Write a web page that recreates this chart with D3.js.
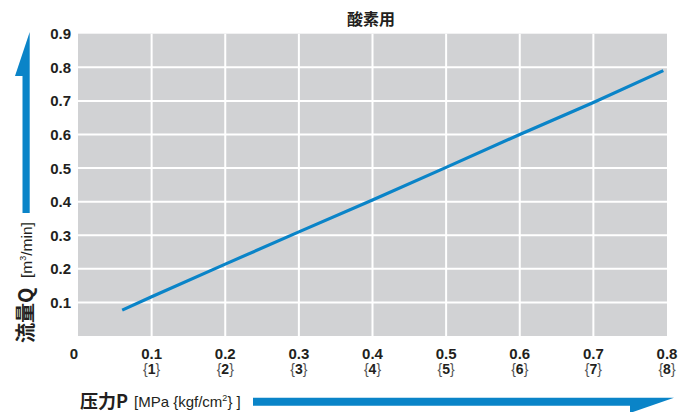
<!DOCTYPE html>
<html>
<head>
<meta charset="utf-8">
<script src="https://cdn.jsdelivr.net/npm/d3@7"></script>
<style>
  body { margin: 0; background: #fff; }
  text { font-family: "Liberation Sans", Roboto, sans-serif; }
  .cjk { font-family: "Noto Sans CJK JP", "Noto Sans CJK SC", sans-serif; }
</style>
</head>
<body>
<script>
// data
var pressure = [0.06, 0.1, 0.2, 0.3, 0.4, 0.5, 0.6, 0.7, 0.795];
var flow     = [0.077, 0.117, 0.214, 0.31, 0.405, 0.502, 0.6, 0.695, 0.79];
var xTicks = [0, 0.1, 0.2, 0.3, 0.4, 0.5, 0.6, 0.7, 0.8];
var xSubLabels = ["", "1", "2", "3", "4", "5", "6", "7", "8"];
var yTicks = [0.1, 0.2, 0.3, 0.4, 0.5, 0.6, 0.7, 0.8, 0.9];

const W = 680, H = 412;
const plotL = 78, plotR = 667, plotT = 33.7, plotB = 336;
const blue = "#0a84c8";
const gray = "#d1d2d4";
const ink = "#231f20";

const svg = d3.select("body").append("svg")
    .attr("width", W)
    .attr("height", H);

var x = d3.scaleLinear().domain([0, 0.8]).range([plotL, plotR]);
var y = d3.scaleLinear().domain([0, 0.9]).range([plotB, plotT]);

// plot background
svg.append("rect")
    .attr("x", plotL).attr("y", plotT)
    .attr("width", plotR - plotL).attr("height", plotB - plotT)
    .attr("fill", gray);

// grid
svg.selectAll(".vgrid").data(xTicks.slice(1, -1)).enter()
    .append("line")
    .attr("x1", d => x(d)).attr("x2", d => x(d))
    .attr("y1", plotT).attr("y2", plotB)
    .attr("stroke", "#fff").attr("stroke-width", 2);

svg.selectAll(".hgrid").data(yTicks.slice(0, -1)).enter()
    .append("line")
    .attr("x1", plotL).attr("x2", plotR)
    .attr("y1", d => y(d)).attr("y2", d => y(d))
    .attr("stroke", "#fff").attr("stroke-width", 2);

// the line
var pts = pressure.map((p, i) => [p, flow[i]]);
svg.append("path")
    .datum(pts)
    .attr("fill", "none")
    .attr("stroke", blue)
    .attr("stroke-width", 3.2)
    .attr("d", d3.line().x(d => x(d[0])).y(d => y(d[1])));

// y tick labels
svg.selectAll(".ylab").data(yTicks).enter()
    .append("text")
    .attr("x", 71)
    .attr("y", d => y(d) + 5.5)
    .attr("text-anchor", "end")
    .attr("font-size", 15)
    .attr("font-weight", "bold")
    .attr("fill", ink)
    .text(d => d.toFixed(1));

// x tick labels
svg.selectAll(".xlab").data(xTicks).enter()
    .append("text")
    .attr("x", d => d == 0 ? x(d) - 4 : x(d))
    .attr("y", 359)
    .attr("text-anchor", "middle")
    .attr("font-size", 15)
    .attr("font-weight", "bold")
    .attr("fill", ink)
    .text(d => d == 0 ? "0" : d.toFixed(1));

var sub = svg.selectAll(".xsub").data(xTicks.slice(1)).enter()
    .append("text")
    .attr("x", d => x(d))
    .attr("y", 374)
    .attr("text-anchor", "middle")
    .attr("font-size", 14)
    .attr("fill", ink);
sub.append("tspan").attr("fill", "#555").text("{");
sub.append("tspan").attr("font-weight", "bold").text((d, i) => xSubLabels[i + 1]);
sub.append("tspan").attr("fill", "#555").text("}");

// title
svg.append("text")
    .attr("class", "cjk")
    .attr("x", 371).attr("y", 25)
    .attr("text-anchor", "middle")
    .attr("font-size", 16)
    .attr("font-weight", "bold")
    .attr("fill", ink)
    .text("酸素用");

// y axis arrow (half head)
svg.append("path")
    .attr("fill", blue)
    .attr("d", "M29.7,32 L29.7,213 L22.5,213 L22.5,76 L15,76 Z");

svg.append("text")
    .attr("class", "cjk")
    .attr("transform", "translate(33,343) rotate(-90)")
    .attr("font-size", 20)
    .attr("font-weight", "bold")
    .attr("fill", ink)
    .text("流量Q");

var yl = svg.append("text")
    .attr("transform", "translate(32,278) rotate(-90)")
    .attr("font-size", 15.5)
    .attr("fill", ink);
yl.append("tspan").text("[m");
yl.append("tspan").attr("font-size", 9).attr("dy", -6).text("3");
yl.append("tspan").attr("dy", 6).text("/min]");

// x axis label and arrow
svg.append("text")
    .attr("class", "cjk")
    .attr("x", 80).attr("y", 408)
    .attr("font-size", 18)
    .attr("font-weight", "bold")
    .attr("fill", ink)
    .text("压力P");

var xl = svg.append("text")
    .attr("x", 134).attr("y", 407)
    .attr("font-size", 15)
    .attr("fill", ink);
xl.append("tspan").text("[MPa {kgf/cm");
xl.append("tspan").attr("font-size", 9).attr("dy", -6).text("2");
xl.append("tspan").attr("dy", 6).text("} ]");

svg.append("path")
    .attr("fill", blue)
    .attr("d", "M253,397.7 L674,397.7 L630,413 L630,405.7 L253,405.7 Z");
</script>
</body>
</html>
